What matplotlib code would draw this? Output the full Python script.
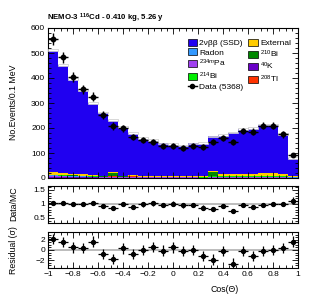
import numpy as np
import matplotlib
matplotlib.use('Agg')
import matplotlib.pyplot as plt
from matplotlib.ticker import MultipleLocator, FuncFormatter
from matplotlib.patches import Patch
from matplotlib.lines import Line2D

plt.rcParams['font.family'] = ['Liberation Sans', 'DejaVu Sans']
plt.rcParams['mathtext.fontset'] = 'custom'
plt.rcParams['mathtext.rm'] = 'Liberation Sans'
plt.rcParams['mathtext.it'] = 'Liberation Sans:italic'
plt.rcParams['mathtext.bf'] = 'Liberation Sans:bold'
plt.rcParams['axes.linewidth'] = 0.8

# 25 bins in cos(theta)
edges = np.linspace(-1, 1, 26)
centers = 0.5 * (edges[1:] + edges[:-1])

data = [556, 483, 405, 355, 325, 252, 208, 199, 165, 152, 145, 129, 129,
        121, 129, 125, 143, 161, 143, 188, 185, 209, 209, 175, 92]

two_nu = [487, 430, 380, 335, 286, 252, 208, 195, 169, 154, 145, 132, 129,
          123, 132, 131, 137, 154, 165, 179, 182, 195, 195, 159, 72]
external = [11, 9, 7, 7, 5, 3, 5, 3, 3, 1, 1, 1, 1, 1, 1, 6, 5, 9, 8, 8, 9, 10, 10, 8, 2]
bi210 = [1, 1, 1, 1, 1, 1, 12, 1, 1, 0, 0, 0, 0, 0, 0, 0, 17, 1, 1, 1, 1, 1, 1, 1, 0]
k40 = [4, 4, 3, 3, 3, 2, 2, 2, 2, 2, 2, 2, 2, 2, 2, 2, 2, 2, 2, 2, 2, 2, 2, 2, 1]
pa234 = [5, 4, 3, 3, 2, 1, 2, 1, 2, 1, 1, 1, 1, 1, 1, 0, 3, 3, 3, 3, 3, 3, 3, 3, 1]
radon = [2, 2, 2, 1, 1, 1, 1, 1, 1, 1, 1, 1, 1, 1, 1, 0, 1, 1, 1, 1, 1, 1, 1, 1, 1]
bi214 = [1] * 25
tl208 = [1] * 25
mc_err = [4, 4, 4, 4, 3, 3, 3, 3, 3, 3, 3, 3, 3, 3, 3, 3, 3, 3, 3, 3, 3, 3, 3, 3, 4]

ratio = [1.05, 1.02, 0.99, 0.99, 1.05, 0.94, 0.87, 0.99, 0.90, 0.98, 1.02, 0.96, 1.01,
         0.96, 0.96, 0.87, 0.81, 0.94, 0.76, 0.96, 0.90, 0.96, 0.98, 1.00, 1.12]
resid = [2.1, 1.5, 0.5, 0.4, 1.65, -0.75, -1.8, 0.3, -0.75, 0.05, 0.65, -0.1, 0.5,
         -0.15, 0.0, -1.1, -1.85, -0.25, -2.65, -0.15, -1.2, -0.15, 0.05, 0.4, 1.65]

comps = [
    (k40, '#6a00c8', r'$^{40}$K'),
    (pa234, '#a040f0', r'$^{234m}$Pa'),
    (radon, '#3399ff', 'Radon'),
    (bi214, '#00ee00', r'$^{214}$Bi'),
    (tl208, '#ff3300', r'$^{208}$Tl'),
    (bi210, '#008800', r'$^{210}$Bi'),
    (external, '#ffcc00', 'External'),
    (two_nu, '#2000f0', '2νββ (SSD)'),
]

W, H = 315, 301
fig = plt.figure(figsize=(W / 100, H / 100), dpi=100)

def box(l, t, r, b):
    return [l / W, 1 - b / H, (r - l) / W, (b - t) / H]

ax = fig.add_axes(box(48, 28, 298, 178))
axr = fig.add_axes(box(48, 186, 298, 223))
axs = fig.add_axes(box(48, 232, 298, 268))

fs = 6
data = np.array(data, dtype=float)
xerr = 0.5 * np.diff(edges)

# stacked MC
bottom = np.zeros(25)
for vals, col, lab in comps:
    v = np.array(vals, dtype=float)
    ax.stairs(bottom + v, edges, baseline=bottom, fill=True, color=col, lw=0)
    bottom = bottom + v
total = bottom
err = np.array(mc_err, dtype=float)
ax.bar(centers, 2 * err, bottom=total - err, width=np.diff(edges), color='white',
       edgecolor='#c8c8c8', lw=0.5, zorder=3)
ax.errorbar(centers, data, yerr=np.sqrt(data), xerr=xerr, fmt='o', color='black',
            ms=3.2, elinewidth=1.0, capsize=0, zorder=5)
ax.set_xlim(-1, 1)
ax.set_ylim(0, 600)
ax.yaxis.set_major_locator(MultipleLocator(100))
ax.yaxis.set_minor_locator(MultipleLocator(20))

# ratio panel
axr.axhline(1, color='#b0b0b0', lw=1.2, zorder=1)
axr.errorbar(centers, ratio, yerr=np.array(ratio) / np.sqrt(data), xerr=xerr, fmt='o',
             color='black', ms=2.8, elinewidth=0.9, capsize=0, zorder=5)
axr.set_xlim(-1, 1)
axr.set_ylim(0.32, 1.64)
axr.yaxis.set_major_locator(MultipleLocator(0.5))
axr.yaxis.set_minor_locator(MultipleLocator(0.1))

# residual panel
axs.axhline(0, color='#b0b0b0', lw=1.2, zorder=1)
axs.errorbar(centers, resid, yerr=1.0, xerr=xerr, fmt='o', color='black',
             ms=2.8, elinewidth=0.9, capsize=0, zorder=5)
axs.set_xlim(-1, 1)
axs.set_ylim(-3.5, 3.5)
axs.yaxis.set_major_locator(MultipleLocator(2))
axs.yaxis.set_minor_locator(MultipleLocator(0.5))

fmt = FuncFormatter(lambda v, p: ('%g' % round(v, 3)).replace('-', '\u2212'))
for a in (ax, axr, axs):
    a.xaxis.set_major_locator(MultipleLocator(0.2))
    a.xaxis.set_minor_locator(MultipleLocator(0.05))
    a.tick_params(which='both', direction='in', top=True, right=True, labelsize=fs,
                  pad=2, width=0.6)
    a.tick_params(which='major', length=4)
    a.tick_params(which='minor', length=2)
    a.yaxis.set_major_formatter(fmt)
ax.tick_params(labelbottom=False)
axr.tick_params(labelbottom=False)
axs.xaxis.set_major_formatter(fmt)

# legend
handles = [
    Patch(facecolor='#2000f0', edgecolor='black', lw=0.5, label='2νββ (SSD)'),
    Patch(facecolor='#3399ff', edgecolor='black', lw=0.5, label='Radon'),
    Patch(facecolor='#a040f0', edgecolor='black', lw=0.5, label=r'$^{234m}$Pa'),
    Patch(facecolor='#00ee00', edgecolor='black', lw=0.5, label=r'$^{214}$Bi'),
    Line2D([], [], color='black', marker='o', ms=3, lw=1, label='Data (5368)'),
    Patch(facecolor='#ffcc00', edgecolor='black', lw=0.5, label='External'),
    Patch(facecolor='#008800', edgecolor='black', lw=0.5, label=r'$^{210}$Bi'),
    Patch(facecolor='#6a00c8', edgecolor='black', lw=0.5, label=r'$^{40}$K'),
    Patch(facecolor='#ff3300', edgecolor='black', lw=0.5, label=r'$^{208}$Tl'),
]
ax.legend(handles=handles, ncol=2, loc='upper left', bbox_to_anchor=(0.545, 0.95),
          frameon=False, fontsize=fs, handlelength=1.1, handleheight=0.9,
          handletextpad=0.3, labelspacing=0.15, columnspacing=0.6, borderaxespad=0)

fig.text(47 / W, 1 - 18.5 / H, r'NEMO-3 $^{\mathbf{116}}$Cd - 0.410 kg, 5.26 y', fontsize=5.6,
         fontweight='bold', ha='left', va='center')
fig.text(14 / W, 1 - 65 / H, 'No.Events/0.1 MeV', rotation=90, fontsize=6.3,
         ha='center', va='top')
fig.text(14 / W, 1 - 204 / H, 'Data/MC', rotation=90, fontsize=6.3,
         ha='center', va='center')
fig.text(14 / W, 1 - 250 / H, 'Residual (σ)', rotation=90, fontsize=6.3,
         ha='center', va='center')
fig.text(225 / W, 1 - 289 / H, 'Cos(Θ)', fontsize=6.3, ha='center', va='center')

fig.savefig('out.png', dpi=100)
